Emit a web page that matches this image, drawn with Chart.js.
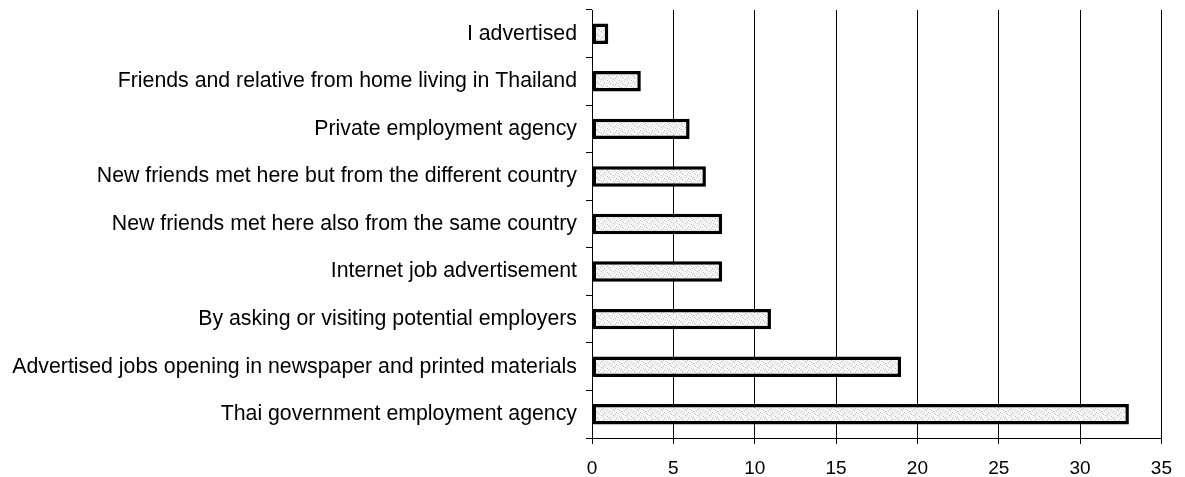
<!DOCTYPE html>
<html>
<head>
<meta charset="utf-8">
<script src="https://cdn.jsdelivr.net/npm/chart.js@4/dist/chart.umd.min.js"></script>
<style>
  html, body { margin: 0; padding: 0; background: #ffffff; }
  #wrap { width: 1185px; height: 477px; position: relative; }
</style>
</head>
<body>
<div id="wrap"><canvas id="c" width="1185" height="477"></canvas></div>
<script>
// Ways of finding a job, number of respondents
const categories = [
  'I advertised',
  'Friends and relative from home living in Thailand',
  'Private employment agency',
  'New friends met here but from the different country',
  'New friends met here also from the same country',
  'Internet job advertisement',
  'By asking or visiting potential employers',
  'Advertised jobs opening in newspaper and printed materials',
  'Thai government employment agency'
];
const respondents = [1, 3, 6, 7, 8, 8, 11, 19, 33];
const xTicks = [0, 5, 10, 15, 20, 25, 30, 35];

// Light stippled fill for the bars
function stipple() {
  const p = document.createElement('canvas');
  p.width = 12; p.height = 6;
  const g = p.getContext('2d');
  g.fillStyle = '#f6f6f6';
  g.fillRect(0, 0, 12, 6);
  g.fillStyle = '#b8b8b8';
  [[1,1],[7,2],[4,4],[10,5],[3,0],[9,3]].forEach(([x, y]) => g.fillRect(x, y, 1, 1));
  g.fillStyle = '#d6d6d6';
  [[5,1],[11,0],[0,3],[6,5],[8,4],[2,2]].forEach(([x, y]) => g.fillRect(x, y, 1, 1));
  return g.createPattern(p, 'repeat');
}

const labelFont = { family: 'Liberation Sans, Arial, sans-serif', size: 21.3 };
const tickFont = { family: 'Liberation Sans, Arial, sans-serif', size: 19 };

new Chart(document.getElementById('c'), {
  type: 'bar',
  data: {
    labels: categories,
    datasets: [{
      data: respondents,
      backgroundColor: stipple(),
      borderColor: '#000000',
      borderWidth: 3.5,
      borderSkipped: false,
      barPercentage: 0.43,
      categoryPercentage: 1.0
    }]
  },
  options: {
    indexAxis: 'y',
    responsive: false,
    animation: false,
    devicePixelRatio: 1,
    layout: { padding: { top: 10, right: 22, bottom: 0, left: 0 } },
    plugins: { legend: { display: false }, tooltip: { enabled: false } },
    scales: {
      x: {
        min: 0,
        max: 35,
        afterBuildTicks: s => { s.ticks = xTicks.map(v => ({ value: v })); },
        afterFit: s => { s.height = 39; },
        ticks: { color: '#000000', font: tickFont, padding: 13, maxRotation: 0 },
        grid: { color: '#000000', lineWidth: 1, tickLength: 6, drawTicks: true },
        border: { color: '#000000', width: 1 }
      },
      y: {
        afterFit: s => { s.width = 592; s.paddingTop = 0; s.paddingBottom = 0; },
        ticks: { color: '#000000', font: labelFont, padding: 9, autoSkip: false },
        grid: { drawOnChartArea: false, color: '#000000', tickLength: 6, offset: true },
        border: { color: '#000000', width: 1 }
      }
    }
  }
});
</script>
</body>
</html>
